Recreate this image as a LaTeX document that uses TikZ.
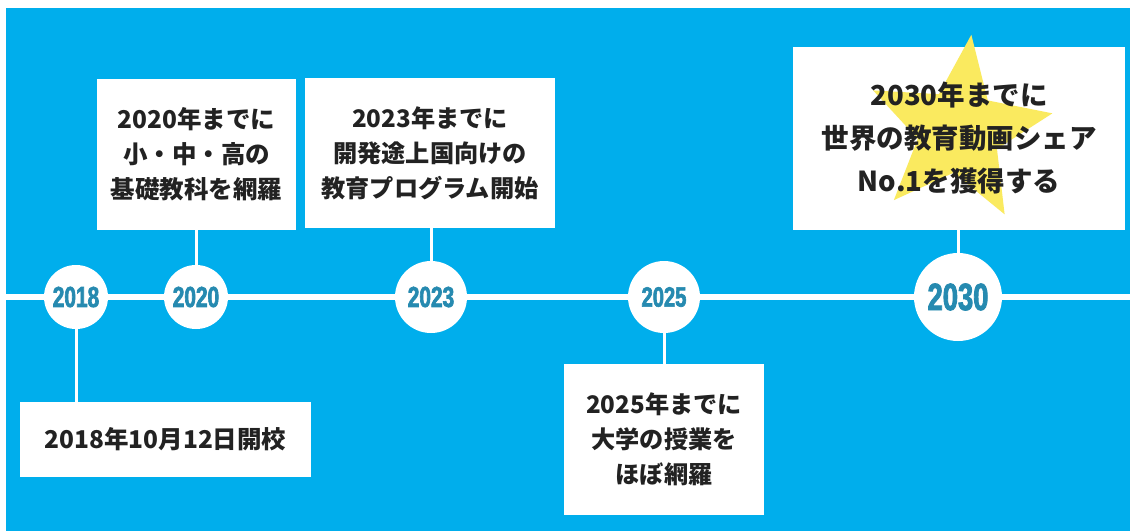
\documentclass[tikz,border=0pt]{standalone}
\usepackage{fontspec}
\newfontfamily\jp{Noto Sans CJK JP}
\newfontfamily\yearfont[FakeStretch=0.72,FakeBold=2.2]{Liberation Sans}
\definecolor{bgblue}{RGB}{0,174,236}
\definecolor{yeartxt}{RGB}{38,138,176}
\definecolor{txt}{RGB}{34,34,34}
\definecolor{staryel}{RGB}{250,234,95}
\tikzset{
  box/.style={fill=white, inner sep=0pt, text=txt, align=center},
  yearc/.style={circle, fill=white, inner sep=0pt, text=yeartxt},
  conn/.style={draw=white, line width=3pt},
  tl/.style={draw=white, line width=6pt},
}
\begin{document}
\begin{tikzpicture}[x=1pt,y=-1pt]
\useasboundingbox (0,0) rectangle (1130,531);
\fill[white] (0,0) rectangle (1130,531);
\fill[bgblue] (6,8) rectangle (1130,531);
% timeline
\coordinate (lstart) at (6,297);
\coordinate (lend) at (1130,297);
\draw[tl] (lstart) -- (lend);
% boxes
\node[box, minimum width=291pt, minimum height=75pt,
  font=\jp\bfseries\fontsize{24.5}{33}\selectfont] (b2018) at (165.5,439.5) {2018年10月12日開校};
\node[box, minimum width=199pt, minimum height=151pt,
  font=\jp\bfseries\fontsize{24.5}{35}\selectfont] (b2020) at (196.5,154.5) {2020年までに\\小・中・高の\\基礎教科を網羅};
\node[box, minimum width=250pt, minimum height=150pt,
  font=\jp\bfseries\fontsize{24.2}{35}\selectfont] (b2023) at (430,153) {2023年までに\\開発途上国向けの\\教育プログラム開始};
\node[box, minimum width=200pt, minimum height=151pt,
  font=\jp\bfseries\fontsize{24.2}{35}\selectfont] (b2025) at (664,439.5) {2025年までに\\大学の授業を\\ほぼ網羅};
\node[box, minimum width=332pt, minimum height=183pt] (b2030) at (959,138.5) {};
% star
\begin{scope}[shift={(959,131)}]
\fill[staryel] (82.7:97pt) -- (118.7:42pt) -- (154.7:95pt) -- (190.7:42pt) -- (226.7:95pt)
  -- (262.7:42pt) -- (298.7:95pt) -- (334.7:42pt) -- (10.7:95pt) -- (46.7:42pt) -- cycle;
\end{scope}
\node[text=txt, align=center, inner sep=0pt,
  font=\jp\bfseries\fontsize{27.5}{43}\selectfont] (t2030) at (b2030.center) {2030年までに\\世界の教育動画シェア\\No.1を獲得する};
% year circles
\node[yearc, minimum size=64pt, font=\yearfont\bfseries\fontsize{29}{29}\selectfont] (c2018) at (76,297) {2018};
\node[yearc, minimum size=64pt, font=\yearfont\bfseries\fontsize{29}{29}\selectfont] (c2020) at (196,297) {2020};
\node[yearc, minimum size=72pt, font=\yearfont\bfseries\fontsize{29}{29}\selectfont] (c2023) at (431,297) {2023};
\node[yearc, minimum size=72pt, font=\yearfont\bfseries\fontsize{28}{28}\selectfont] (c2025) at (664,297) {2025};
\node[yearc, minimum size=88pt, font=\yearfont\bfseries\fontsize{38}{38}\selectfont] (c2030) at (958,297) {2030};
% connectors
\draw[conn] (c2018.south) -- (c2018.south |- b2018.north);
\draw[conn] (b2020.south -| c2020.north) -- (c2020.north);
\draw[conn] (b2023.south -| c2023.north) -- (c2023.north);
\draw[conn] (c2025.south) -- (c2025.south |- b2025.north);
\draw[conn] (b2030.south -| c2030.north) -- (c2030.north);
\end{tikzpicture}
\end{document}
